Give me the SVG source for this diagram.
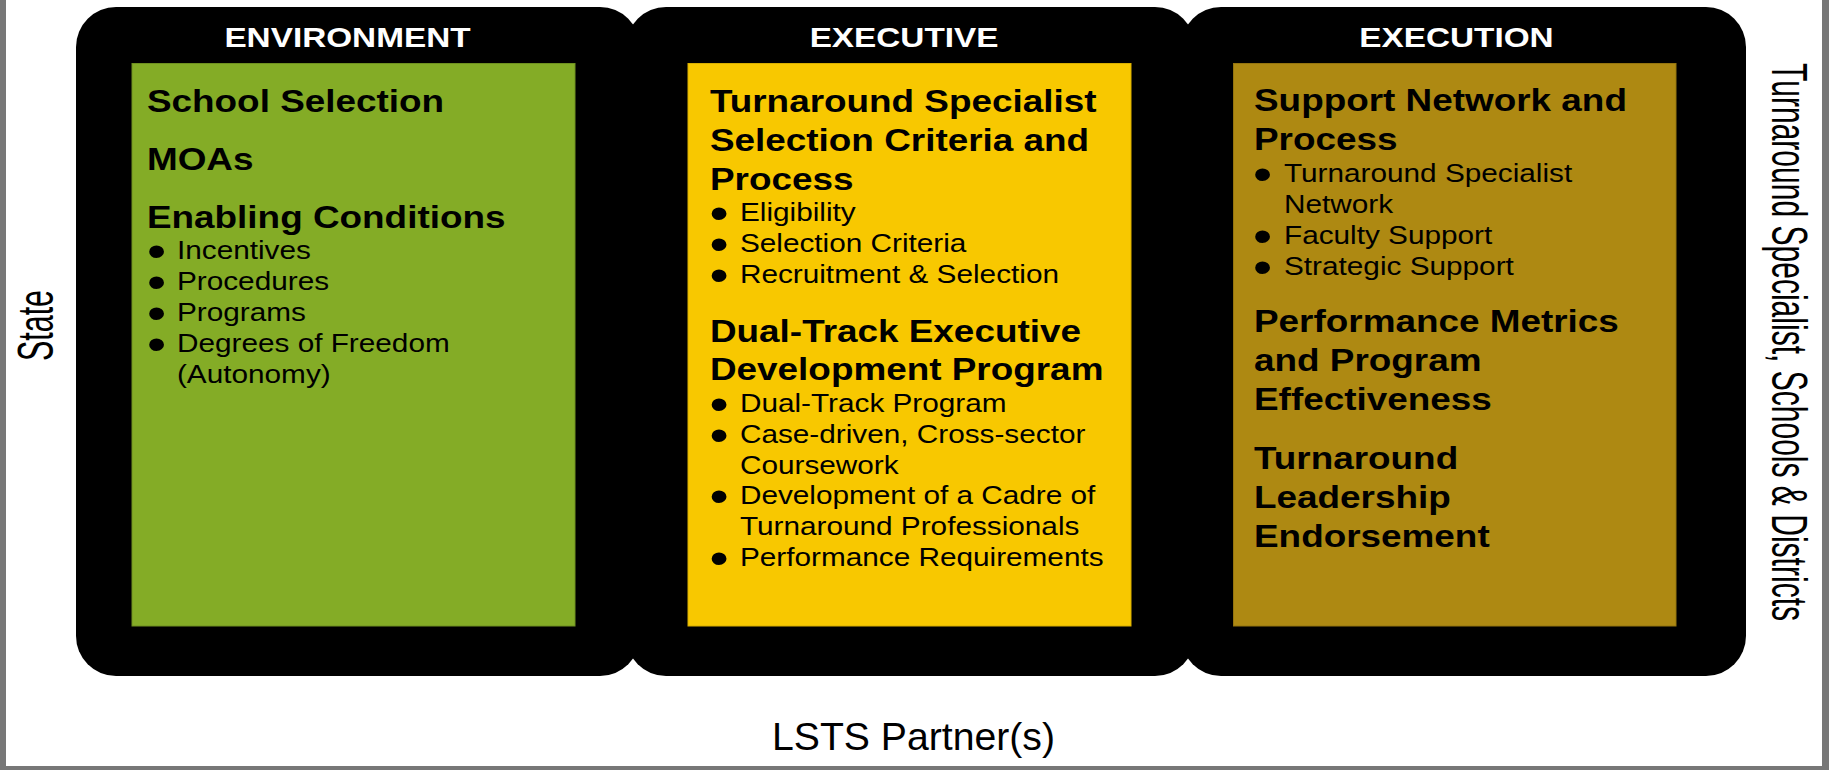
<svg xmlns="http://www.w3.org/2000/svg" width="1829" height="770" viewBox="0 0 1829 770">
  <defs>
    <style>
      text { font-family: "Liberation Sans", Arial, sans-serif; }
      .frame { fill: #000; }
      .green { fill: #84AC26; stroke: #6E9020; stroke-width: 1; }
      .yellow { fill: #F8C800; stroke: #D9AF00; stroke-width: 1; }
      .gold { fill: #AE8912; stroke: #94740F; stroke-width: 1; }
      .hd { font-weight: bold; font-size: 28px; fill: #fff; text-anchor: middle; }
      .h { font-weight: bold; font-size: 31px; fill: #000; }
      .b { font-size: 25px; fill: #000; }
      .dot { font-size: 46px; text-anchor: middle; }
      .lbl { font-size: 50px; fill: #000; }
      .foot { font-size: 39px; fill: #000; }
    </style>
  </defs>

  <rect width="1829" height="770" fill="#fff"/>
  <!-- page edge -->
  <path d="M0 0H6V766H1822V0H1829V770H0Z" fill="#777"/>

  <!-- Environment column -->
  <g id="environment">
    <rect class="frame" x="76" y="7" width="564" height="669" rx="40"/>
    <rect class="green" x="132" y="63.5" width="443" height="562.5"/>
    <g transform="scale(1.19 1)">
      <text class="hd" x="292" y="47">ENVIRONMENT</text>
      <text class="h" x="123.5" y="112">School Selection</text>
      <text class="h" x="123.5" y="170">MOAs</text>
      <text class="h" x="123.5" y="228">Enabling Conditions</text>
      <text class="b"><tspan class="dot" x="131.5" y="267.3">•</tspan><tspan x="148.7" y="259">Incentives</tspan></text>
      <text class="b"><tspan class="dot" x="131.5" y="298.3">•</tspan><tspan x="148.7" y="290">Procedures</tspan></text>
      <text class="b"><tspan class="dot" x="131.5" y="329.3">•</tspan><tspan x="148.7" y="321">Programs</tspan></text>
      <text class="b"><tspan class="dot" x="131.5" y="360.3">•</tspan><tspan x="148.7" y="352">Degrees of Freedom</tspan></text>
      <text class="b" x="148.7" y="383">(Autonomy)</text>
    </g>
  </g>

  <!-- Executive column -->
  <g id="executive">
    <rect class="frame" x="626" y="7" width="569" height="669" rx="40"/>
    <rect class="yellow" x="688" y="63.5" width="443" height="562.5"/>
    <g transform="scale(1.19 1)">
      <text class="hd" x="759.7" y="47">EXECUTIVE</text>
      <text class="h" x="596.6" y="112">Turnaround Specialist</text>
      <text class="h" x="596.6" y="151">Selection Criteria and</text>
      <text class="h" x="596.6" y="190">Process</text>
      <text class="b"><tspan class="dot" x="604.2" y="229.3">•</tspan><tspan x="621.8" y="221">Eligibility</tspan></text>
      <text class="b"><tspan class="dot" x="604.2" y="260.3">•</tspan><tspan x="621.8" y="252">Selection Criteria</tspan></text>
      <text class="b"><tspan class="dot" x="604.2" y="291.3">•</tspan><tspan x="621.8" y="283">Recruitment &amp; Selection</tspan></text>
      <text class="h" x="596.6" y="342">Dual-Track Executive</text>
      <text class="h" x="596.6" y="380">Development Program</text>
      <text class="b"><tspan class="dot" x="604.2" y="420.3">•</tspan><tspan x="621.8" y="412">Dual-Track Program</tspan></text>
      <text class="b"><tspan class="dot" x="604.2" y="451.3">•</tspan><tspan x="621.8" y="443">Case-driven, Cross-sector</tspan></text>
      <text class="b" x="621.8" y="474">Coursework</text>
      <text class="b"><tspan class="dot" x="604.2" y="512.3">•</tspan><tspan x="621.8" y="504">Development of a Cadre of</tspan></text>
      <text class="b" x="621.8" y="535">Turnaround Professionals</text>
      <text class="b"><tspan class="dot" x="604.2" y="574.3">•</tspan><tspan x="621.8" y="566">Performance Requirements</tspan></text>
    </g>
  </g>

  <!-- Execution column -->
  <g id="execution">
    <rect class="frame" x="1181" y="7" width="565" height="669" rx="40"/>
    <rect class="gold" x="1233.5" y="63.5" width="442.5" height="562.5"/>
    <g transform="scale(1.19 1)">
      <text class="hd" x="1223.9" y="47">EXECUTION</text>
      <text class="h" x="1053.8" y="111">Support Network and</text>
      <text class="h" x="1053.8" y="150">Process</text>
      <text class="b"><tspan class="dot" x="1060.9" y="190.3">•</tspan><tspan x="1079" y="182">Turnaround Specialist</tspan></text>
      <text class="b" x="1079" y="213">Network</text>
      <text class="b"><tspan class="dot" x="1060.9" y="252.3">•</tspan><tspan x="1079" y="244">Faculty Support</tspan></text>
      <text class="b"><tspan class="dot" x="1060.9" y="283.3">•</tspan><tspan x="1079" y="275">Strategic Support</tspan></text>
      <text class="h" x="1053.8" y="332">Performance Metrics</text>
      <text class="h" x="1053.8" y="371">and Program</text>
      <text class="h" x="1053.8" y="410">Effectiveness</text>
      <text class="h" x="1053.8" y="469">Turnaround</text>
      <text class="h" x="1053.8" y="508">Leadership</text>
      <text class="h" x="1053.8" y="547">Endorsement</text>
    </g>
  </g>

  <!-- stakeholder labels around the columns -->
  <g id="state">
    <text class="lbl" transform="translate(53 361) rotate(-90)" textLength="71" lengthAdjust="spacingAndGlyphs">State</text>
  </g>
  <g id="schools">
    <text class="lbl" transform="translate(1772 63) rotate(90)" textLength="558" lengthAdjust="spacingAndGlyphs">Turnaround Specialist, Schools &amp; Districts</text>
  </g>
  <g id="partners">
    <text class="foot" x="772" y="750" textLength="283" lengthAdjust="spacingAndGlyphs">LSTS Partner(s)</text>
  </g>
</svg>
